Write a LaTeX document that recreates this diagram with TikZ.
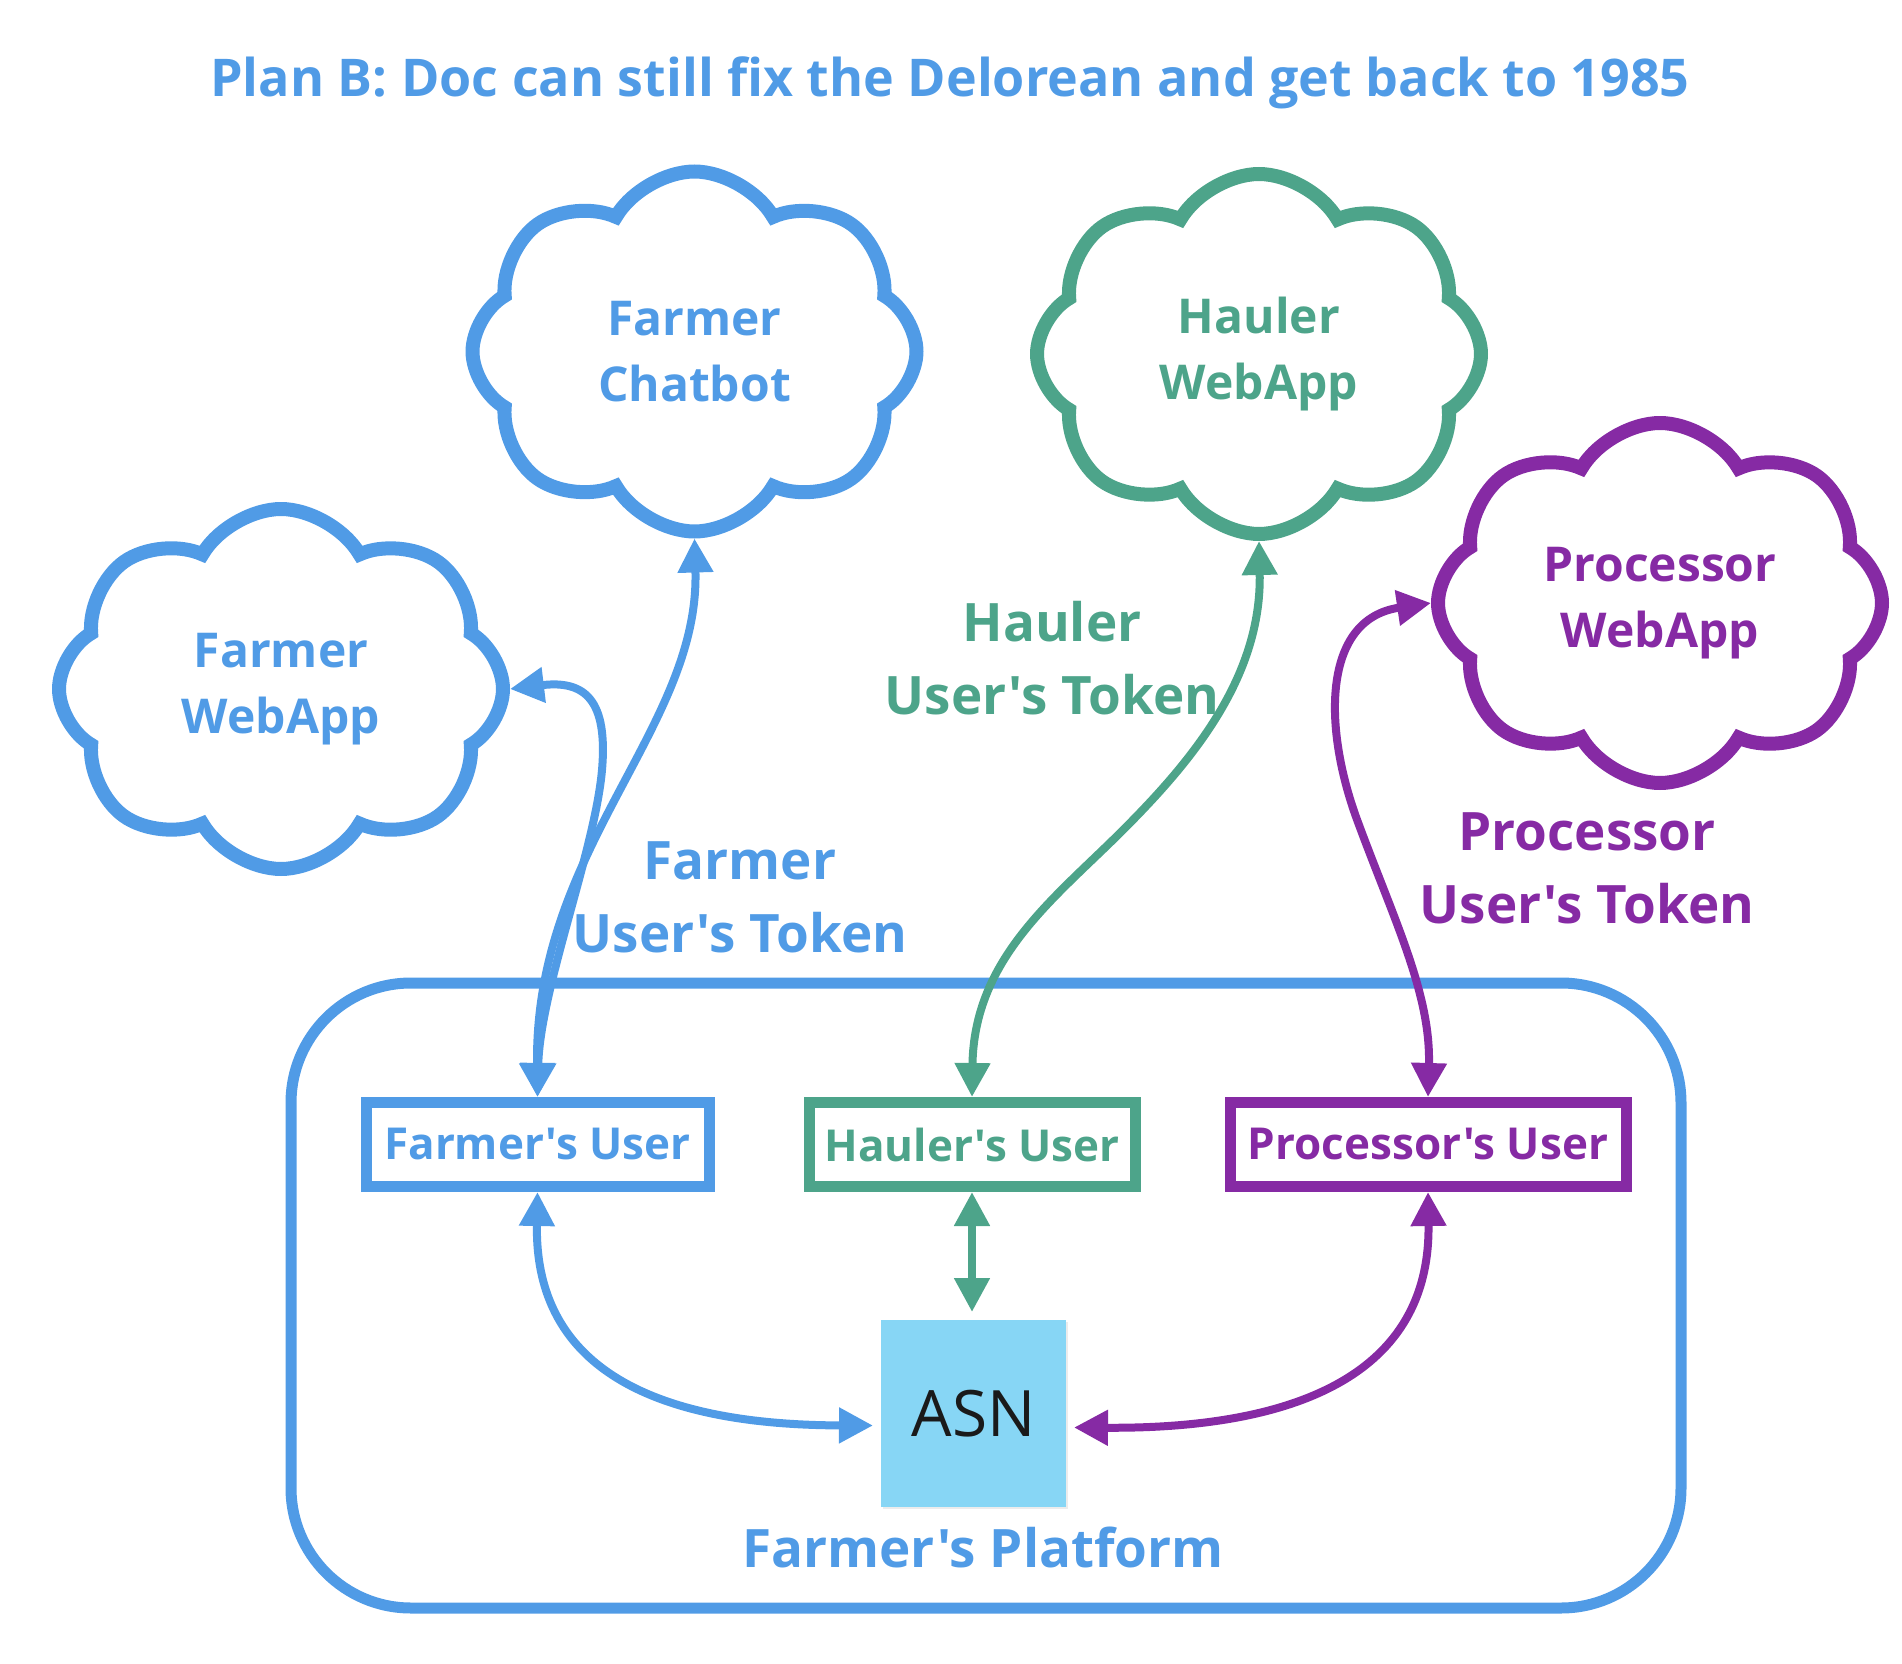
\documentclass[tikz,border=0pt]{standalone}
\usepackage{fontspec}
\setmainfont{Open Sans}[Ligatures=TeXOff]
\usetikzlibrary{shapes.symbols,arrows.meta,shadows}
\definecolor{fblue}{RGB}{80,155,230}
\definecolor{hgreen}{RGB}{77,164,138}
\definecolor{ppurple}{RGB}{134,42,164}
\definecolor{asnfill}{RGB}{135,214,245}
\definecolor{asntext}{RGB}{26,26,26}
\tikzset{
  cloudbase/.style={cloud, cloud puffs=8, cloud puff arc=120, aspect=1.23,
    minimum width=222pt, minimum height=180pt, line width=7pt, fill=white,
    align=center, font=\fontsize{24}{32.75}\selectfont\bfseries, inner sep=0pt},
  userbox/.style={rectangle, line width=5.5pt, minimum height=42pt,
    font=\fontsize{22}{26}\selectfont\bfseries, inner sep=0pt, fill=white},
  token/.style={align=center, font=\fontsize{26.5}{36.5}\selectfont\bfseries},
  conn/.style={line width=4pt,
    {Triangle[length=17pt,width=17pt]}-{Triangle[length=17pt,width=17pt]}},
}
\begin{document}
\begin{tikzpicture}[x=0.5pt,y=-0.5pt]
\useasboundingbox (0,0) rectangle (1902,1664);

\node[font=\fontsize{26}{31}\selectfont\bfseries, text=fblue] (title) at (950,83)
  {Plan B: Doc can still fix the Delorean and get back to 1985};

% platform
\node[draw=fblue, line width=5.5pt, rounded corners=60pt, minimum width=695pt,
  minimum height=312.5pt] (plat) at (986,1295.5) {};
\node[token, text=fblue] (platlbl) at (983,1547) {Farmer's Platform};

% clouds
\node[cloudbase, draw=fblue, text=fblue] (chat) at (694.5,351.5) {Farmer\\Chatbot};
\node[cloudbase, draw=hgreen, text=hgreen] (hweb) at (1259,354) {Hauler\\WebApp};
\node[cloudbase, draw=ppurple, text=ppurple] (pweb) at (1660,603) {Processor\\WebApp};
\node[cloudbase, draw=fblue, text=fblue] (fweb) at (281,689) {Farmer\\WebApp};

% token labels
\node[token, text=fblue] (ftok) at (740,897) {Farmer\\User's Token};
\node[token, text=hgreen] (htok) at (1052,658) {Hauler\\User's Token};
\node[token, text=ppurple] (ptok) at (1587,868) {Processor\\User's Token};

% user boxes
\node[userbox, draw=fblue, text=fblue, minimum width=171.5pt] (fuser) at (537.5,1144.5) {Farmer's User};
\node[userbox, draw=hgreen, text=hgreen, minimum width=163pt] (huser) at (972,1144.5) {Hauler's User};
\node[userbox, draw=ppurple, text=ppurple, minimum width=198pt] (puser) at (1428,1144.5) {Processor's User};

% ASN
\node[fill=asnfill, minimum width=92.5pt, minimum height=93.5pt, outer sep=4pt,
  font=\fontsize{32}{38}\selectfont, text=asntext,
  drop shadow={opacity=0.15, shadow xshift=1pt, shadow yshift=-1pt}] (asn) at (973.5,1413.5) {ASN};

% connectors
\draw[conn, fblue] (chat.south) .. controls (700,728) and (534,849) .. (fuser.north);
\draw[conn, fblue] (fweb.east) .. controls (585,680) and (608,700) .. (602,770)
  .. controls (595,850) and (540,990) .. (fuser.north);
\draw[conn, hgreen] (hweb.south) .. controls (1262,679) and (1189,764) .. (1122,831)
  .. controls (1055,898) and (974,958) .. (huser.north);
\draw[conn, ppurple] (pweb.west) .. controls (1322,619) and (1322,728) .. (1359,825)
  .. controls (1395,922) and (1431,995) .. (puser.north);
\draw[conn, fblue] (fuser.south) .. controls (534,1383) and (680,1425) .. ([yshift=-6pt]asn.west);
\draw[conn, hgreen] (huser.south) -- (huser.south |- asn.north);
\draw[conn, ppurple] (puser.south) .. controls (1431,1383) and (1280,1429) .. ([yshift=-7pt]asn.east);
\end{tikzpicture}
\end{document}
